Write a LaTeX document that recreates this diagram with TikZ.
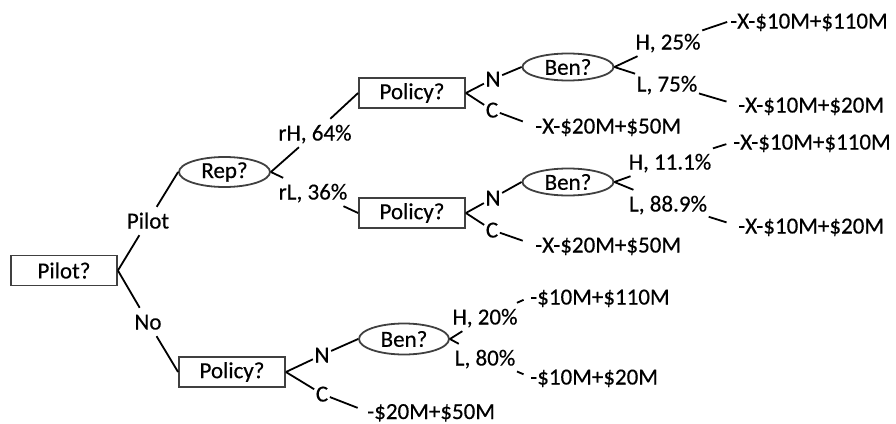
\documentclass[tikz,border=0pt]{standalone}
\usepackage{fontspec}
\setmainfont{Carlito}[FakeBold=0.4]
\usetikzlibrary{shapes.geometric}
\definecolor{shapegray}{RGB}{64,64,64}
\begin{document}
\begin{tikzpicture}[x=1pt,y=-1pt,
  font=\fontsize{23}{27}\selectfont,
  dbox/.style={draw=shapegray, line width=1.8pt, rectangle, minimum width=106pt, minimum height=30pt, inner sep=0pt},
  chance/.style={draw=shapegray, line width=1.8pt, ellipse, minimum width=91pt, minimum height=28pt, inner sep=0pt},
  lbl/.style={inner xsep=1.5pt, inner ysep=6.5pt, text height=15pt, text depth=0pt},
  outc/.style={anchor=west, inner sep=0pt, text height=15pt, text depth=0pt},
  conn/.style={line width=1.8pt, draw=black},
]
\useasboundingbox (0,0) rectangle (896,423);

% decision and chance nodes
\node[dbox] (pilotQ) at (64,270.5) {Pilot?};
\node[chance, minimum height=30pt] (repQ) at (224.5,172) {Rep?};
\node[dbox] (polA) at (412,93) {Policy?};
\node[dbox] (polB) at (412,213) {Policy?};
\node[dbox] (polC) at (232,372) {Policy?};
\node[chance, minimum height=27pt] (benA) at (568,67) {Ben?};
\node[chance, minimum height=27pt] (benB) at (568,182) {Ben?};
\node[chance, minimum height=31pt, minimum width=90pt] (benC) at (404,339) {Ben?};

% branch labels
\node[lbl] (lPilot) at (148,221) {Pilot};
\node[lbl] (lNo) at (148,322) {No};
\node[lbl] (lrH) at (315,133) {rH, 64\%};
\node[lbl] (lrL) at (313,192) {rL, 36\%};
\node[lbl] (lNA) at (493,79) {N};
\node[lbl] (lCA) at (492,110) {C};
\node[lbl] (lNB) at (493,198) {N};
\node[lbl] (lCB) at (492,230) {C};
\node[lbl] (lNC) at (322,355) {N};
\node[lbl] (lCC) at (322,394) {C};
\node[lbl] (lHA) at (668,42) {H, 25\%};
\node[lbl] (lLA) at (667,84) {L, 75\%};
\node[lbl] (lHB) at (670,162) {H, 11.1\%};
\node[lbl] (lLB) at (668,204) {L, 88.9\%};
\node[lbl] (lHC) at (485,317) {H, 20\%};
\node[lbl] (lLC) at (485,358) {L, 80\%};

% outcomes
\node[outc] (oCA) at (535,126) {-X-\$20M+\$50M};
\node[outc] (oHA) at (730,21) {-X-\$10M+\$110M};
\node[outc] (oLA) at (738,105) {-X-\$10M+\$20M};
\node[outc] (oCB) at (535,245) {-X-\$20M+\$50M};
\node[outc] (oHB) at (733,142) {-X-\$10M+\$110M};
\node[outc] (oLB) at (738,226) {-X-\$10M+\$20M};
\node[outc] (oCC) at (367,411.5) {-\$20M+\$50M};
\node[outc] (oHC) at (530,297) {-\$10M+\$110M};
\node[outc] (oLC) at (530,377) {-\$10M+\$20M};

% connectors
\draw[conn] (pilotQ.east) -- (lPilot) -- (repQ.west);
\draw[conn] (pilotQ.east) -- (lNo) -- (polC.west);
\draw[conn] (repQ.east) -- (lrH) -- (polA.west);
\draw[conn] (repQ.east) -- (lrL) -- (polB.west);

\draw[conn] (polA.east) -- (lNA) -- (benA.west);
\draw[conn, shorten >=13pt] (polA.east) -- (lCA) -- (oCA.west);
\draw[conn, shorten >=3pt] (benA.east) -- (lHA) -- (oHA.west);
\draw[conn, shorten >=12pt] (benA.east) -- (lLA) -- (oLA.west);

\draw[conn] (polB.east) -- (lNB) -- (benB.west);
\draw[conn, shorten >=13pt] (polB.east) -- (lCB) -- (oCB.west);
\draw[conn, shorten >=7pt] (benB.east) -- (lHB) -- (oHB.west);
\draw[conn, shorten >=12pt] (benB.east) -- (lLB) -- (oLB.west);

\draw[conn] (polC.east) -- (lNC) -- (benC.west);
\draw[conn, shorten >=10pt] (polC.east) -- (lCC) -- (oCC.west);
\draw[conn, shorten >=7pt] (benC.east) -- (lHC) -- (oHC.west);
\draw[conn, shorten >=7pt] (benC.east) -- (lLC) -- (oLC.west);
\end{tikzpicture}
\end{document}
